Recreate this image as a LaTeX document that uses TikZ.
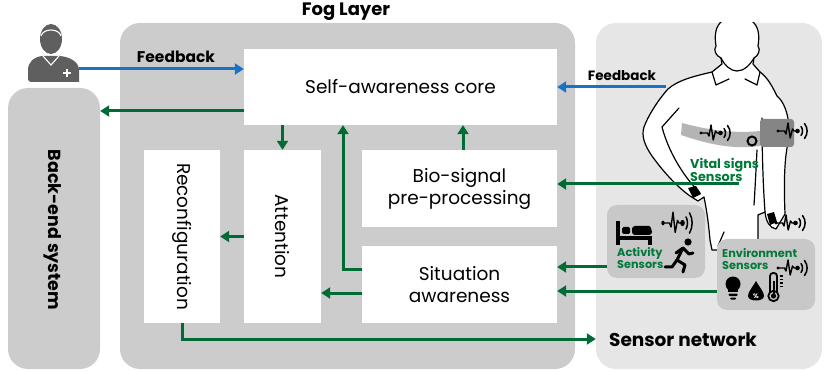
\documentclass[tikz,border=0pt]{standalone}
\usepackage{fontspec}
\setmainfont{Poppins}
\usetikzlibrary{arrows.meta,calc}

\definecolor{foggray}{HTML}{CCCCCC}
\definecolor{netgray}{HTML}{E6E6E6}
\definecolor{subgray}{HTML}{C8C8C8}
\definecolor{strapgray}{HTML}{B4B4B4}
\definecolor{bandgray}{HTML}{858585}
\definecolor{flowgreen}{HTML}{006B35}
\definecolor{labelgreen}{HTML}{00793A}
\definecolor{fbblue}{HTML}{1A72C4}
\definecolor{icongray}{HTML}{5F5F5F}

\begin{document}
\begin{tikzpicture}[x=1pt,y=-1pt,
  panel/.style={fill=#1, draw=none, rounded corners=20pt, inner sep=0pt},
  subpanel/.style={fill=subgray, draw=none, rounded corners=10pt, inner sep=0pt},
  block/.style={fill=white, draw=none, inner sep=0pt},
  blocktext/.style={font=\fontsize{18.5}{22}\selectfont, align=center, inner sep=0pt},
  titletext/.style={font=\fontsize{18}{20}\selectfont\bfseries, inner sep=0pt},
  sensortext/.style={font=\fontsize{11.3}{11.5}\selectfont\bfseries, text=labelgreen, align=left, inner sep=0pt},
  garrow/.style={draw=flowgreen, line width=3pt, -{Triangle[length=9pt,width=11pt]}},
  barrow/.style={draw=fbblue, line width=3pt, -{Triangle[length=9pt,width=11pt]}},
  outline/.style={draw=black, line width=1.2pt, line join=round, line cap=round},
  hb/.pic={
    \draw[line width=1.4pt, line join=round, line cap=round]
      (-14,0) -- (-7.5,0) -- (-6,3) -- (-4,-8) -- (-1.8,7) -- (0.5,-2) -- (2,0) -- (5.5,0);
    \fill (-14,0) circle (1.7);
    \fill (5.5,0) circle (2.3);
    \draw[line width=1.5pt, line cap=round]
      (9,-4.5) .. controls (11,-2) and (11,2) .. (9,4.5);
    \draw[line width=1.5pt, line cap=round]
      (12.5,-7.5) .. controls (16,-3) and (16,3) .. (12.5,7.5);
  }
]
\useasboundingbox (0,0) rectangle (824,371);

% ---------------- layers ----------------
\node[panel=foggray, minimum width=455pt, minimum height=346pt] (fog) at (347.5,196) {};
\node[panel=foggray, minimum width=92pt, minimum height=281pt] (backend) at (54,228.5) {};
\node[panel=netgray, minimum width=226pt, minimum height=346pt] (sensor) at (709,196) {};

\node[titletext] (fogtitle) at (346,12) {Fog Layer};
\node[titletext, font=\fontsize{17.5}{20}\selectfont\bfseries, rotate=-90] (backendtext) at (53,230) {Back-end system};
\node[font=\fontsize{18.5}{20}\selectfont\bfseries, inner sep=0pt] (sensortitle) at (683,340) {Sensor network};

% ---------------- fog blocks ----------------
\node[block, minimum width=313pt, minimum height=76pt] (core) at (400.5,87) {};
\node[blocktext] (coretext) at (core) {Self-awareness core};
\node[block, minimum width=195pt, minimum height=77pt] (bio) at (459.5,188.5) {};
\node[blocktext] (biotext) at (bio) {Bio-signal\\pre-processing};
\node[block, minimum width=195pt, minimum height=77pt] (sit) at (459.5,284.5) {};
\node[blocktext] (sittext) at (sit) {Situation\\awareness};
\node[block, minimum width=76pt, minimum height=173pt] (reconf) at (182,236.5) {};
\node[blocktext, rotate=-90] (reconftext) at (reconf) {Reconfiguration};
\node[block, minimum width=77pt, minimum height=173pt] (attn) at (282.5,236.5) {};
\node[blocktext, rotate=-90] (attntext) at (attn) {Attention};

% ---------------- clinician icon ----------------
\fill[icongray] (28,82) -- (28,70) .. controls (28,62) and (34,57) .. (42,56)
  -- (60,56) .. controls (70,57) and (79,62) .. (79,70) -- (79,82)
  [rounded corners=3pt] -- cycle;
\fill[icongray] (51,39) ellipse (11 and 15);
\draw[white, line width=1.1pt] (43,56) -- (51,65) -- (59,56);
\draw[white, line width=1.1pt] (41,36) .. controls (43,28) and (59,28) .. (61,36);
\draw[white, line width=1.6pt] (67,69) -- (67,77) (63,73) -- (71,73);
\coordinate (userR) at (79,69);

% ---------------- wearer with vital-sign sensors ----------------
\begin{scope}
  \clip (sensor.north west) rectangle (sensor.south east);
  \filldraw[fill=white, outline]
    (712,72) .. controls (695,76) and (678,80) .. (668,89)
    .. controls (658,100) and (648,116) .. (644,127)
    .. controls (641,136) and (645,146) .. (652,156)
    .. controls (662,170) and (676,186) .. (690,196)
    -- (698,201) -- (704,197)
    .. controls (706,207) and (708,218) .. (710,240)
    -- (712,250) -- (758,250) -- (758,215)
    -- (765,212) .. controls (766,222) and (770,228) .. (776,229)
    -- (785,214)
    .. controls (784,190) and (784,165) .. (787,148)
    .. controls (792,130) and (788,105) .. (777,96)
    .. controls (772,86) and (768,78) .. (760,72)
    -- (753,64) -- (754,58)
    .. controls (758,56) and (761,50) .. (758,46)
    .. controls (760,34) and (758,26) .. (752,21)
    -- (722,21)
    .. controls (716,26) and (714,34) .. (716,46)
    .. controls (713,50) and (716,56) .. (721,58)
    -- (722,64) -- cycle;
  % chin and collars
  \draw[outline] (721,58) .. controls (725,66) and (731,71) .. (737,71)
    .. controls (744,71) and (750,65) .. (754,58);
  \draw[outline] (712,72) -- (716,85) -- (729,79);
  \draw[outline] (760,72) -- (757,85) -- (745,79);
  % inner arm lines
  \draw[outline] (679,108) -- (662,127) .. controls (668,150) and (682,175) .. (700,193);
  \draw[outline] (762,118) .. controls (762,150) and (763,185) .. (765,212);
  \draw[outline] (757,150) .. controls (756,170) and (755,190) .. (754,205);
  \draw[outline] (724,232) -- (718,246);
  % hands
  \fill (688,188) -- (696,186) -- (701,194) -- (693,198) -- cycle;
  \fill (767,214) -- (774,212) -- (777,222) -- (770,225) -- cycle;
  % chest strap and arm band
  \fill[strapgray] (682,123) .. controls (705,129) and (730,134) .. (760,131)
    -- (760,146) .. controls (730,150) and (705,143) .. (681,135) -- cycle;
  \filldraw[fill=strapgray, draw=black, line width=2pt] (752,141) circle (4.5);
  \fill[bandgray, rounded corners=3pt] (760,119) rectangle (794,147);
  \pic at (715,133) {hb};
  \pic at (792,131) {hb};
  \pic at (790,223) {hb};
\end{scope}
\coordinate (bodyFb) at (666,87);
\coordinate (vitalOut) at (739,184);
\node[sensortext, font=\fontsize{12.8}{12.5}\selectfont\bfseries, anchor=west] (vitaltext) at (690,170) {Vital signs\\Sensors};

% ---------------- activity sensors ----------------
\node[subpanel, minimum width=98pt, minimum height=73pt] (act) at (656,241.5) {};
\node[sensortext, anchor=west] (acttext) at (617,258) {Activity\\Sensors};
\pic[yscale=1.35] at (677,223) {hb};
% bed
\fill (616,221) rectangle (620,245);
\fill (616,236) rectangle (652,240);
\fill (648,236) rectangle (652,245);
\fill[rounded corners=1.5pt] (622,227) rectangle (630,234);
\fill[rounded corners=3pt] (632,226) -- (646,226) .. controls (650,226) and (652,229) .. (652,235) -- (632,235) -- cycle;
% runner
\begin{scope}[line width=3pt, line cap=round, line join=round]
  \fill (688,242) circle (3.6);
  \draw (683,248) -- (677,260);
  \draw (676,253) -- (683,248) -- (689,254) -- (693,253);
  \draw (677,260) -- (685,265) -- (683,272);
  \draw (677,260) -- (672,267) -- (665,267);
\end{scope}

% ---------------- environment sensors ----------------
\node[subpanel, minimum width=98pt, minimum height=71pt] (env) at (766,274.5) {};
\node[sensortext, anchor=west] (envtext) at (722,259) {Environment\\Sensors};
\pic at (792,268) {hb};
% bulb
\fill (733,284) circle (7.5);
\fill (728,286) rectangle (738,292);
\fill[rounded corners=1pt] (728.5,293.5) rectangle (737.5,296);
\fill[rounded corners=1pt] (730,297.5) rectangle (736,299.5);
% droplet
\fill (756,281) .. controls (752,288) and (748,292) .. (748,296)
  .. controls (748,302) and (764,302) .. (764,296)
  .. controls (764,292) and (760,288) .. (756,281) -- cycle;
\node[text=white, font=\fontsize{6.5}{7}\selectfont\bfseries, inner sep=0pt] (pct) at (756,296) {\%};
% thermometer
\draw[line width=1.8pt, rounded corners=3pt] (770,293) -- (770,273) -- (777,273) -- (777,293);
\draw[line width=1.8pt] (773.5,296) circle (5.2);
\fill (773.5,296) circle (2.6);
\fill (772.5,281) rectangle (774.5,295);
\draw[line width=1.2pt] (779.5,276) -- (783,276) (779.5,279.5) -- (783,279.5)
  (779.5,283) -- (783,283) (779.5,286.5) -- (783,286.5);
\coordinate (actOut) at ([yshift=-25.5pt]act.west);
\coordinate (envOut) at ([yshift=-16.5pt]env.west);

% ---------------- connectors ----------------
\draw[barrow] (userR) -- (userR -| core.west);
\node[font=\fontsize{15.5}{17}\selectfont\bfseries, inner sep=0pt] (fbleft) at (176,57) {Feedback};
\draw[barrow] (bodyFb) -- (bodyFb -| core.east);
\node[font=\fontsize{13.5}{15}\selectfont\bfseries, inner sep=0pt] (fbright) at (622,76) {Feedback};

\coordinate (coreOut) at ([yshift=-24pt]core.west);
\draw[garrow] (coreOut) -- (coreOut -| backend.east);
\draw[garrow] (core.south -| attn.north) -- (attn.north);
\coordinate (bioUp) at ([xshift=3.5pt]bio.north);
\draw[garrow] (bioUp) -- (bioUp |- core.south);
\coordinate (sitUp) at ([yshift=14.5pt]sit.west);
\coordinate (riseX) at (343,0);
\draw[garrow] (sitUp) -| (core.south -| riseX);
\coordinate (sitLeft) at ([yshift=-8.5pt]sit.west);
\draw[garrow] (sitLeft) -- (sitLeft -| attn.east);
\draw[garrow] (attn.west) -- (attn.west -| reconf.east);
\coordinate (busY) at (0,339);
\draw[garrow] (reconf.south) |- (sensor.west |- busY);
\draw[garrow] (vitalOut) -- (vitalOut -| bio.east);
\draw[garrow] (actOut) -- (actOut -| sit.east);
\draw[garrow] (envOut) -- (envOut -| sit.east);
\end{tikzpicture}
\end{document}
